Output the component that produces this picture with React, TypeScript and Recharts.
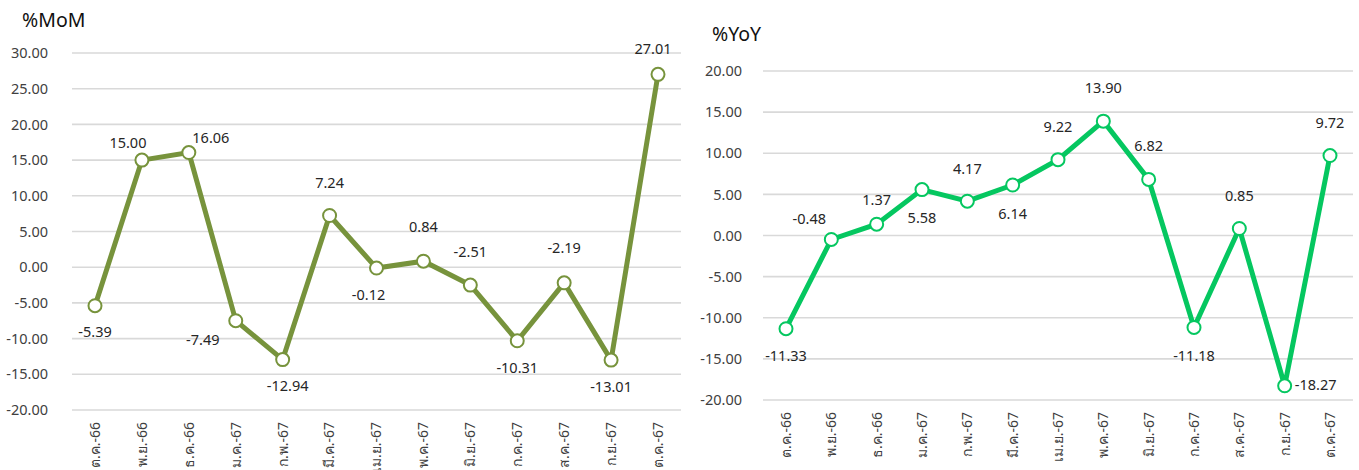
import React from 'react'
import {
  LineChart,
  Line,
  XAxis,
  YAxis,
  CartesianGrid,
  LabelList,
} from 'recharts'

// เดือน ต.ค.-66 ถึง ต.ค.-67
const months = [
  'ต.ค.-66', 'พ.ย.-66', 'ธ.ค.-66', 'ม.ค.-67', 'ก.พ.-67', 'มี.ค.-67', 'เม.ย.-67',
  'พ.ค.-67', 'มิ.ย.-67', 'ก.ค.-67', 'ส.ค.-67', 'ก.ย.-67', 'ต.ค.-67',
]

const momValues = [-5.39, 15.0, 16.06, -7.49, -12.94, 7.24, -0.12, 0.84, -2.51, -10.31, -2.19, -13.01, 27.01]
const yoyValues = [-11.33, -0.48, 1.37, 5.58, 4.17, 6.14, 9.22, 13.9, 6.82, -11.18, 0.85, -18.27, 9.72]

const momTicks = [-20, -15, -10, -5, 0, 5, 10, 15, 20, 25, 30]
const yoyTicks = [-20, -15, -10, -5, 0, 5, 10, 15, 20]

// ตำแหน่งป้ายตัวเลขเทียบกับจุด [dx, dy]
const momLabelOffsets: [number, number][] = [
  [0, 25], [-14, -18], [22, -16], [-33, 18], [5, 25], [0, -34], [-8, 26],
  [0, -35], [0, -34], [0, 26], [0, -36], [0, 26], [-5, -26],
]
const yoyLabelOffsets: [number, number][] = [
  [0, 26], [-22, -21], [0, -25], [0, 27], [0, -33], [0, 28], [0, -34],
  [0, -34], [0, -34], [0, 28], [0, -34], [31, -2], [0, -34],
]

const momData = months.map((m, i) => ({ month: m, value: momValues[i] }))
const yoyData = months.map((m, i) => ({ month: m, value: yoyValues[i] }))

const FONT = '"Noto Sans", "DejaVu Sans", sans-serif'
const GRID = '#d9d9d9'

function MonthTick({ x, y, payload, offset }: any) {
  return (
    <g transform={`translate(${x},${y})`}>
      <text
        transform="rotate(-90)"
        x={-offset}
        y={0}
        dy="0.35em"
        textAnchor="end"
        fill="#404040"
        fontSize={14}
        fontFamily={FONT}
      >
        {payload.value}
      </text>
    </g>
  )
}

function makeLabel(offsets: [number, number][]) {
  return (props: any) => {
    const { x, y, value, index } = props
    const [dx, dy] = offsets[index] ?? [0, -25]
    return (
      <text
        x={x + dx}
        y={y + dy}
        textAnchor="middle"
        dominantBaseline="central"
        fill="#262626"
        fontSize={14.5}
        fontFamily={FONT}
      >
        {Number(value).toFixed(2)}
      </text>
    )
  }
}

interface PanelProps {
  title: string
  titleTop: number
  data: { month: string; value: number }[]
  ticks: number[]
  color: string
  offsets: [number, number][]
  width: number
  top: number
  right: number
  axisWidth: number
  xAxisHeight: number
  tickMargin: number
  pad: number
  left: number
}

function Panel(p: PanelProps) {
  return (
    <div style={{ position: 'absolute', left: p.left, top: 0, width: p.width, height: 470 }}>
      <div
        style={{
          position: 'absolute',
          left: 22,
          top: p.titleTop - 13,
          fontFamily: FONT,
          fontSize: 19.5,
          color: '#111',
          lineHeight: '26px',
        }}
      >
        {p.title}
      </div>
      <LineChart
        width={p.width}
        height={470}
        data={p.data}
        margin={{ top: p.top, right: p.right, left: 0, bottom: 0 }}
      >
        <CartesianGrid vertical={false} stroke={GRID} strokeWidth={1.6} />
        <XAxis
          dataKey="month"
          axisLine={false}
          tickLine={false}
          tickSize={0}
          tickMargin={0}
          height={p.xAxisHeight}
          interval={0}
          padding={{ left: p.pad, right: p.pad }}
          tick={<MonthTick offset={12} />}
        />
        <YAxis
          domain={[p.ticks[0], p.ticks[p.ticks.length - 1]]}
          ticks={p.ticks}
          width={p.axisWidth}
          axisLine={false}
          tickLine={false}
          tickMargin={p.tickMargin}
          tickFormatter={(v: number) => v.toFixed(2)}
          tick={{ fill: '#404040', fontSize: 14.5, fontFamily: FONT }}
        />
        <Line
          type="linear"
          dataKey="value"
          stroke={p.color}
          strokeWidth={5}
          dot={{ r: 6.5, fill: '#fff', stroke: p.color, strokeWidth: 2 }}
          activeDot={false}
          isAnimationActive={false}
        >
          <LabelList dataKey="value" content={makeLabel(p.offsets)} />
        </Line>
      </LineChart>
    </div>
  )
}

export default function App() {
  return (
    <div
      style={{
        position: 'absolute',
        left: 0,
        top: 0,
        width: 1359,
        height: 470,
        overflow: 'hidden',
        background: '#fff',
      }}
    >
      <Panel
        title="%MoM"
        titleTop={20}
        data={momData}
        ticks={momTicks}
        color="#77933C"
        offsets={momLabelOffsets}
        left={0}
        width={690}
        top={53}
        right={9}
        axisWidth={72}
        xAxisHeight={60}
        tickMargin={18}
        pad={23}
      />
      <Panel
        title="%YoY"
        titleTop={34}
        data={yoyData}
        ticks={yoyTicks}
        color="#05C760"
        offsets={yoyLabelOffsets}
        left={690}
        width={669}
        top={71}
        right={6}
        axisWidth={73}
        xAxisHeight={70}
        tickMargin={15}
        pad={23}
      />
    </div>
  )
}
